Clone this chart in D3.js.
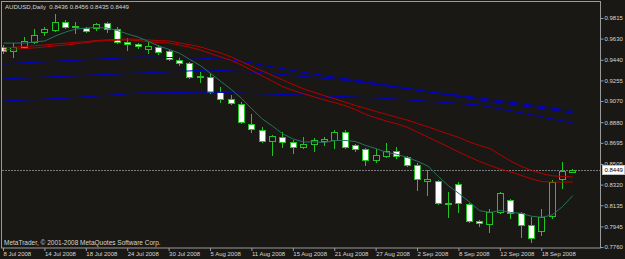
<!DOCTYPE html>
<html>
<head>
<meta charset="utf-8">
<script src="https://cdn.jsdelivr.net/npm/d3@7"></script>
<style>
body { margin: 0; background: #1a1814; }
svg { display: block; }
text { font-family: "Liberation Sans", Arial, sans-serif; }
</style>
</head>
<body>
<div id="chart"></div>
<script>
// trading days shown on the chart
var dates = ["2008-07-08","2008-07-09","2008-07-10","2008-07-11","2008-07-14","2008-07-15","2008-07-16","2008-07-17","2008-07-18","2008-07-21",
  "2008-07-22","2008-07-23","2008-07-24","2008-07-25","2008-07-28","2008-07-29","2008-07-30","2008-07-31","2008-08-01","2008-08-04",
  "2008-08-05","2008-08-06","2008-08-07","2008-08-08","2008-08-11","2008-08-12","2008-08-13","2008-08-14","2008-08-15","2008-08-18",
  "2008-08-19","2008-08-20","2008-08-21","2008-08-22","2008-08-25","2008-08-26","2008-08-27","2008-08-28","2008-08-29","2008-09-01",
  "2008-09-02","2008-09-03","2008-09-04","2008-09-05","2008-09-08","2008-09-09","2008-09-10","2008-09-11","2008-09-12","2008-09-15",
  "2008-09-16","2008-09-17","2008-09-18","2008-09-19","2008-09-22","2008-09-23"]

var open = [0.9555,0.9519,0.9555,0.9600,0.9689,0.9707,0.9779,0.9734,0.9725,0.9725,
  0.9770,0.9716,0.9600,0.9582,0.9537,0.9555,0.9519,0.9438,0.9411,0.9285,
  0.9285,0.9151,0.9088,0.9043,0.8863,0.8810,0.8711,0.8747,0.8702,0.8657,
  0.8684,0.8711,0.8720,0.8792,0.8675,0.8639,0.8540,0.8576,0.8621,0.8567,
  0.8495,0.8352,0.8352,0.8145,0.8325,0.8145,0.7993,0.7966,0.8074,0.8181,
  0.8065,0.7957,0.7903,0.8038,0.8370,0.8436]
var high = [0.9573,0.9591,0.9644,0.9716,0.9734,0.9851,0.9797,0.9779,0.9734,0.9770,
  0.9779,0.9734,0.9635,0.9591,0.9600,0.9573,0.9528,0.9465,0.9420,0.9330,
  0.9321,0.9196,0.9124,0.9061,0.8953,0.8837,0.8765,0.8792,0.8720,0.8747,
  0.8738,0.8747,0.8810,0.8810,0.8684,0.8648,0.8639,0.8693,0.8657,0.8576,
  0.8513,0.8450,0.8361,0.8253,0.8343,0.8154,0.8002,0.8100,0.8253,0.8190,
  0.8074,0.8029,0.8100,0.8361,0.8522,0.8456]
var low = [0.9501,0.9465,0.9546,0.9591,0.9662,0.9698,0.9725,0.9680,0.9689,0.9707,
  0.9689,0.9591,0.9528,0.9546,0.9501,0.9492,0.9438,0.9393,0.9276,0.9241,
  0.9142,0.9061,0.9043,0.8872,0.8792,0.8702,0.8585,0.8657,0.8603,0.8648,
  0.8621,0.8675,0.8648,0.8648,0.8621,0.8495,0.8522,0.8567,0.8558,0.8486,
  0.8271,0.8226,0.8145,0.8029,0.8074,0.7984,0.7948,0.7894,0.8065,0.8020,
  0.7849,0.7804,0.7867,0.8020,0.8289,0.8435]
var close = [0.9519,0.9555,0.9609,0.9662,0.9716,0.9779,0.9734,0.9743,0.9698,0.9761,
  0.9716,0.9600,0.9582,0.9564,0.9564,0.9510,0.9447,0.9411,0.9285,0.9294,
  0.9151,0.9088,0.9052,0.8881,0.8819,0.8711,0.8756,0.8702,0.8657,0.8684,
  0.8720,0.8729,0.8792,0.8657,0.8639,0.8540,0.8585,0.8621,0.8576,0.8495,
  0.8370,0.8370,0.8154,0.8154,0.8154,0.7993,0.7975,0.8074,0.8244,0.8065,
  0.7957,0.7840,0.8029,0.8343,0.8441,0.8449]

// indicator lines
var maFast = [0.9590,0.9590,0.9590,0.9600,0.9609,0.9653,0.9689,0.9716,0.9725,0.9730,
  0.9725,0.9703,0.9671,0.9644,0.9605,0.9564,0.9533,0.9499,0.9443,0.9389,
  0.9318,0.9246,0.9174,0.9093,0.8998,0.8910,0.8844,0.8774,0.8729,0.8702,
  0.8704,0.8698,0.8716,0.8716,0.8707,0.8671,0.8643,0.8609,0.8592,0.8564,
  0.8529,0.8486,0.8393,0.8309,0.8240,0.8165,0.8086,0.8070,0.8088,0.8070,
  0.8063,0.8036,0.8027,0.8047,0.8122,0.8221]
var maRed1 = [0.9546,0.9552,0.9559,0.9566,0.9573,0.9582,0.9589,0.9597,0.9604,0.9613,
  0.9619,0.9623,0.9626,0.9624,0.9618,0.9612,0.9609,0.9591,0.9575,0.9556,
  0.9528,0.9501,0.9465,0.9423,0.9381,0.9340,0.9299,0.9258,0.9218,0.9178,
  0.9148,0.9118,0.9090,0.9060,0.9030,0.9003,0.8976,0.8950,0.8924,0.8899,
  0.8868,0.8838,0.8805,0.8774,0.8742,0.8703,0.8671,0.8643,0.8586,0.8531,
  0.8484,0.8449,0.8419,0.8399,0.8393,0.8388]
var maRed2 = [0.9528,0.9534,0.9541,0.9547,0.9555,0.9564,0.9573,0.9583,0.9594,0.9606,
  0.9611,0.9615,0.9618,0.9612,0.9603,0.9595,0.9590,0.9572,0.9552,0.9529,
  0.9496,0.9465,0.9434,0.9393,0.9345,0.9294,0.9247,0.9198,0.9164,0.9135,
  0.9108,0.9079,0.9056,0.9028,0.8993,0.8949,0.8919,0.8890,0.8865,0.8835,
  0.8791,0.8746,0.8702,0.8657,0.8611,0.8569,0.8527,0.8492,0.8459,0.8434,
  0.8404,0.8372,0.8347,0.8343,0.8343,0.8343]
var maBlue1 = [0.9402,0.9408,0.9413,0.9417,0.9422,0.9426,0.9432,0.9436,0.9441,0.9445,
  0.9450,0.9454,0.9460,0.9464,0.9464,0.9462,0.9460,0.9460,0.9458,0.9456,
  0.9450,0.9445,0.9440,0.9426,0.9410,0.9393,0.9376,0.9360,0.9343,0.9327,
  0.9312,0.9299,0.9284,0.9271,0.9257,0.9243,0.9229,0.9214,0.9198,0.9187,
  0.9167,0.9156,0.9144,0.9133,0.9121,0.9109,0.9098,0.9085,0.9073,0.9059,
  0.9047,0.9033,0.9021,0.9007,0.8994,0.8989]
var maBlue2 = [0.9267,0.9273,0.9276,0.9281,0.9284,0.9288,0.9293,0.9296,0.9301,0.9304,
  0.9309,0.9312,0.9317,0.9320,0.9324,0.9328,0.9332,0.9337,0.9340,0.9345,
  0.9348,0.9344,0.9339,0.9336,0.9331,0.9323,0.9315,0.9307,0.9299,0.9290,
  0.9282,0.9274,0.9266,0.9257,0.9244,0.9232,0.9218,0.9205,0.9193,0.9179,
  0.9168,0.9153,0.9139,0.9125,0.9110,0.9095,0.9081,0.9067,0.9055,0.9042,
  0.9029,0.9016,0.9003,0.8990,0.8977,0.8962]
var maBlue3 = [0.9070,0.9074,0.9079,0.9082,0.9087,0.9091,0.9096,0.9102,0.9109,0.9115,
  0.9121,0.9127,0.9135,0.9141,0.9143,0.9144,0.9145,0.9147,0.9148,0.9150,
  0.9150,0.9147,0.9143,0.9141,0.9137,0.9135,0.9132,0.9128,0.9126,0.9123,
  0.9119,0.9116,0.9112,0.9109,0.9105,0.9101,0.9098,0.9093,0.9087,0.9081,
  0.9074,0.9068,0.9061,0.9055,0.9048,0.9041,0.9034,0.9018,0.9000,0.8982,
  0.8964,0.8946,0.8928,0.8910,0.8892,0.8872]

var priceTicks = [0.9815,0.9630,0.9440,0.9255,0.9070,0.8880,0.8695,0.8505,0.8320,0.8135,0.7945,0.7760]
var lastPrice = 0.8449
var titleText = "AUDUSD,Daily  0.8436 0.8456 0.8435 0.8449"
var footText = "MetaTrader, \u00a9 2001-2008 MetaQuotes Software Corp."

var bg = "#1a1814", frameCol = "#9a9a9a", candleCol = "#22c422", textCol = "#d4d4d4"

var svg = d3.select("#chart").append("svg")
  .attr("width", 625).attr("height", 259)
svg.append("rect").attr("width", 625).attr("height", 259).attr("fill", bg)

var x = d3.scalePoint().domain(dates).range([3, 572.3])
var y = d3.scaleLinear().domain([0.7760, 0.9815]).range([247, 18])
var parse = d3.timeParse("%Y-%m-%d")
var fmt = d3.timeFormat("%-d %b %Y")

svg.append("clipPath").attr("id", "plot")
  .append("rect").attr("x", 2).attr("y", 2).attr("width", 598).attr("height", 246)

var plot = svg.append("g").attr("clip-path", "url(#plot)")

// current price line
plot.append("line")
  .attr("x1", 2).attr("x2", 600)
  .attr("y1", Math.round(y(lastPrice)) + 0.5).attr("y2", Math.round(y(lastPrice)) + 0.5)
  .attr("stroke", "#7a7a7a").attr("stroke-dasharray", "2,1")

var bars = dates.map(function (d, i) {
  return {date: d, o: open[i], h: high[i], l: low[i], c: close[i]}
})
var px = function (d) { return Math.round(x(d.date)) }

var candle = plot.selectAll("g.candle")
  .data(bars)
  .enter()
  .append("g")
  .attr("class", "candle")

candle.append("line")
  .attr("x1", function (d) { return px(d) + 0.5 })
  .attr("x2", function (d) { return px(d) + 0.5 })
  .attr("y1", function (d) { return Math.round(y(d.h)) })
  .attr("y2", function (d) { return Math.round(y(d.l)) + 1 })
  .attr("stroke", candleCol)

candle.append("rect")
  .attr("x", function (d) { return px(d) - 2.5 })
  .attr("width", 6)
  .attr("y", function (d) { return Math.round(y(Math.max(d.o, d.c))) + 0.5 })
  .attr("height", function (d) {
    return Math.max(1, Math.round(y(Math.min(d.o, d.c))) - Math.round(y(Math.max(d.o, d.c))))
  })
  .attr("fill", function (d) { return d.c >= d.o ? bg : "#ffffff" })
  .attr("stroke", candleCol)

// moving averages drawn over the candles
var line = d3.line()
  .x(function (d, i) { return x(dates[i]) + 0.5 })
  .y(function (d) { return y(d) })

var series = [
  {vals: maBlue3, col: "#0000cc"},
  {vals: maBlue2, col: "#0000cc"},
  {vals: maBlue1, col: "#0000cc"},
  {vals: maRed2, col: "#b40000"},
  {vals: maRed1, col: "#b40000"},
  {vals: maFast, col: "#237262"}
]
plot.selectAll("path.ma")
  .data(series)
  .enter()
  .append("path")
  .attr("class", "ma")
  .attr("d", function (s) { return line(s.vals) })
  .attr("fill", "none")
  .attr("stroke", function (s) { return s.col })
  .attr("stroke-width", 1)

// frame
svg.append("rect")
  .attr("x", 1.5).attr("y", 1.5).attr("width", 599).attr("height", 246.5)
  .attr("fill", "none").attr("stroke", frameCol)

// price axis
var yAxis = svg.append("g")
  .attr("transform", "translate(600.5,0)")
  .call(d3.axisRight(y).tickValues(priceTicks).tickSize(3).tickSizeOuter(0).tickPadding(1)
    .tickFormat(d3.format(".4f")))
yAxis.select(".domain").remove()
yAxis.selectAll("line").attr("stroke", frameCol)
yAxis.selectAll("text").attr("fill", textCol).style("font-size", "6px").attr("font-family", null)

// date axis
var xAxis = svg.append("g")
  .attr("transform", "translate(0,248)")
  .call(d3.axisBottom(x)
    .tickValues(dates.filter(function (d, i) { return i % 4 == 0 }))
    .tickSize(3).tickSizeOuter(0).tickPadding(1)
    .tickFormat(function (d) { return fmt(parse(d)) }))
xAxis.select(".domain").remove()
xAxis.selectAll("line").attr("stroke", frameCol)
xAxis.selectAll("text")
  .attr("fill", textCol).style("font-size", "6px").attr("font-family", null)
  .attr("text-anchor", "start").attr("x", 0)

// last price tag
var tagY = Math.round(y(lastPrice))
svg.append("rect")
  .attr("x", 602.5).attr("y", tagY - 4.5).attr("width", 22).attr("height", 9)
  .attr("fill", "#ffffff").attr("stroke", "#c0c0c0")
svg.append("text")
  .attr("x", 604.5).attr("y", tagY + 2.2)
  .attr("fill", "#000000").style("font-size", "6px")
  .text(d3.format(".4f")(lastPrice))

svg.append("text")
  .attr("x", 5).attr("y", 9)
  .attr("fill", textCol).style("font-size", "6.1px")
  .text(titleText)
  .attr("xml:space", "preserve").style("white-space", "pre")

svg.append("text")
  .attr("x", 4).attr("y", 245)
  .attr("fill", textCol).style("font-size", "6.5px")
  .text(footText)
</script>
</body>
</html>
